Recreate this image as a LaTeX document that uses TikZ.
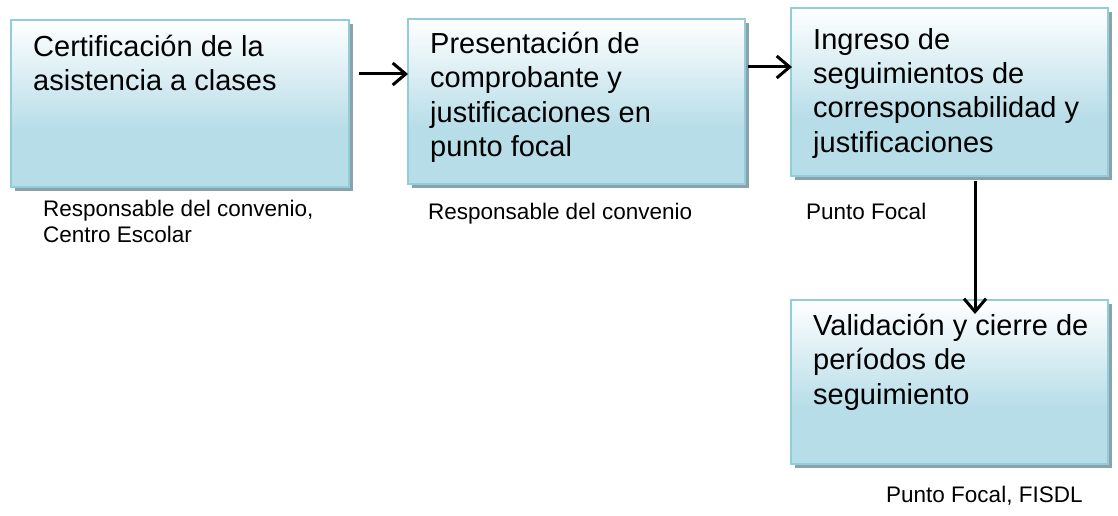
\documentclass[tikz,border=0pt]{standalone}
\usepackage{fontspec}
\setmainfont{Liberation Sans}
\usetikzlibrary{arrows.meta}
\definecolor{boxblue}{RGB}{183,221,232}
\definecolor{boxedge}{RGB}{146,205,220}
\definecolor{shadowgray}{RGB}{140,162,170}
\pgfdeclareverticalshading{boxshade}{100bp}{color(0bp)=(boxblue); color(25bp)=(boxblue); color(42bp)=(boxblue); color(75bp)=(white); color(100bp)=(white)}
\tikzset{
  procbox/.style={shading=boxshade, draw=boxedge, line width=2pt},
  boxshadow/.style={fill=shadowgray},
  boxtext/.style={anchor=north west, inner sep=0pt, align=left, font=\fontsize{29}{34.3}\selectfont},
  roletext/.style={anchor=north west, inner sep=0pt, align=left, font=\fontsize{22.5}{26}\selectfont},
  flowarrow/.style={line width=3pt, -{Straight Barb[length=13pt,width=22pt,line width=3pt]}}
}
\newcommand{\firststrut}{\rule[-9pt]{0pt}{23pt}}
\newcommand{\rolestrut}{\rule[-6pt]{0pt}{17pt}}
\begin{document}
\begin{tikzpicture}[x=1pt,y=-1pt]
\useasboundingbox (0,0) rectangle (1118,516);
% shadows
\fill[boxshadow] (15,24) rectangle (353,191);
\fill[boxshadow] (412,23) rectangle (749,188);
\fill[boxshadow] (795,12) rectangle (1112,180);
\fill[boxshadow] (795,304) rectangle (1112,468);
% boxes
\path[procbox] (11,20) rectangle (349,187);
\path[procbox] (408,19) rectangle (745,184);
\path[procbox] (791,8) rectangle (1108,176);
\path[procbox] (791,300) rectangle (1108,464);
% anchor coordinates for boxes
\coordinate (b1E) at (359,74);
\coordinate (b2W) at (408,74);
\coordinate (b2E) at (748,67);
\coordinate (b3W) at (792,67);
\coordinate (b3S) at (975,181);
\coordinate (b4N) at (975,314);
% texts
\node[boxtext] (t1) at (33,35) {\firststrut Certificación de la\\asistencia a clases};
\node[boxtext] (t2) at (430,32) {\firststrut Presentación de\\comprobante y\\justificaciones en\\punto focal};
\node[boxtext] (t3) at (813,28) {\firststrut Ingreso de\\seguimientos de\\corresponsabilidad y\\justificaciones};
\node[boxtext] (t4) at (813,314) {\firststrut Validación y cierre de\\períodos de\\seguimiento};
% role labels
\node[roletext] (r1) at (43,200) {\rolestrut Responsable del convenio,\\Centro Escolar};
\node[roletext] (r2) at (428,203) {\rolestrut Responsable del convenio};
\node[roletext] (r3) at (806,203) {\rolestrut Punto Focal};
\node[roletext] (r4) at (886,486) {\rolestrut Punto Focal, FISDL};
% arrows
\draw[flowarrow] (b1E) -- (b2W);
\draw[flowarrow] (b2E) -- (b3W);
\draw[flowarrow] (b3S) -- (b4N);
\end{tikzpicture}
\end{document}
